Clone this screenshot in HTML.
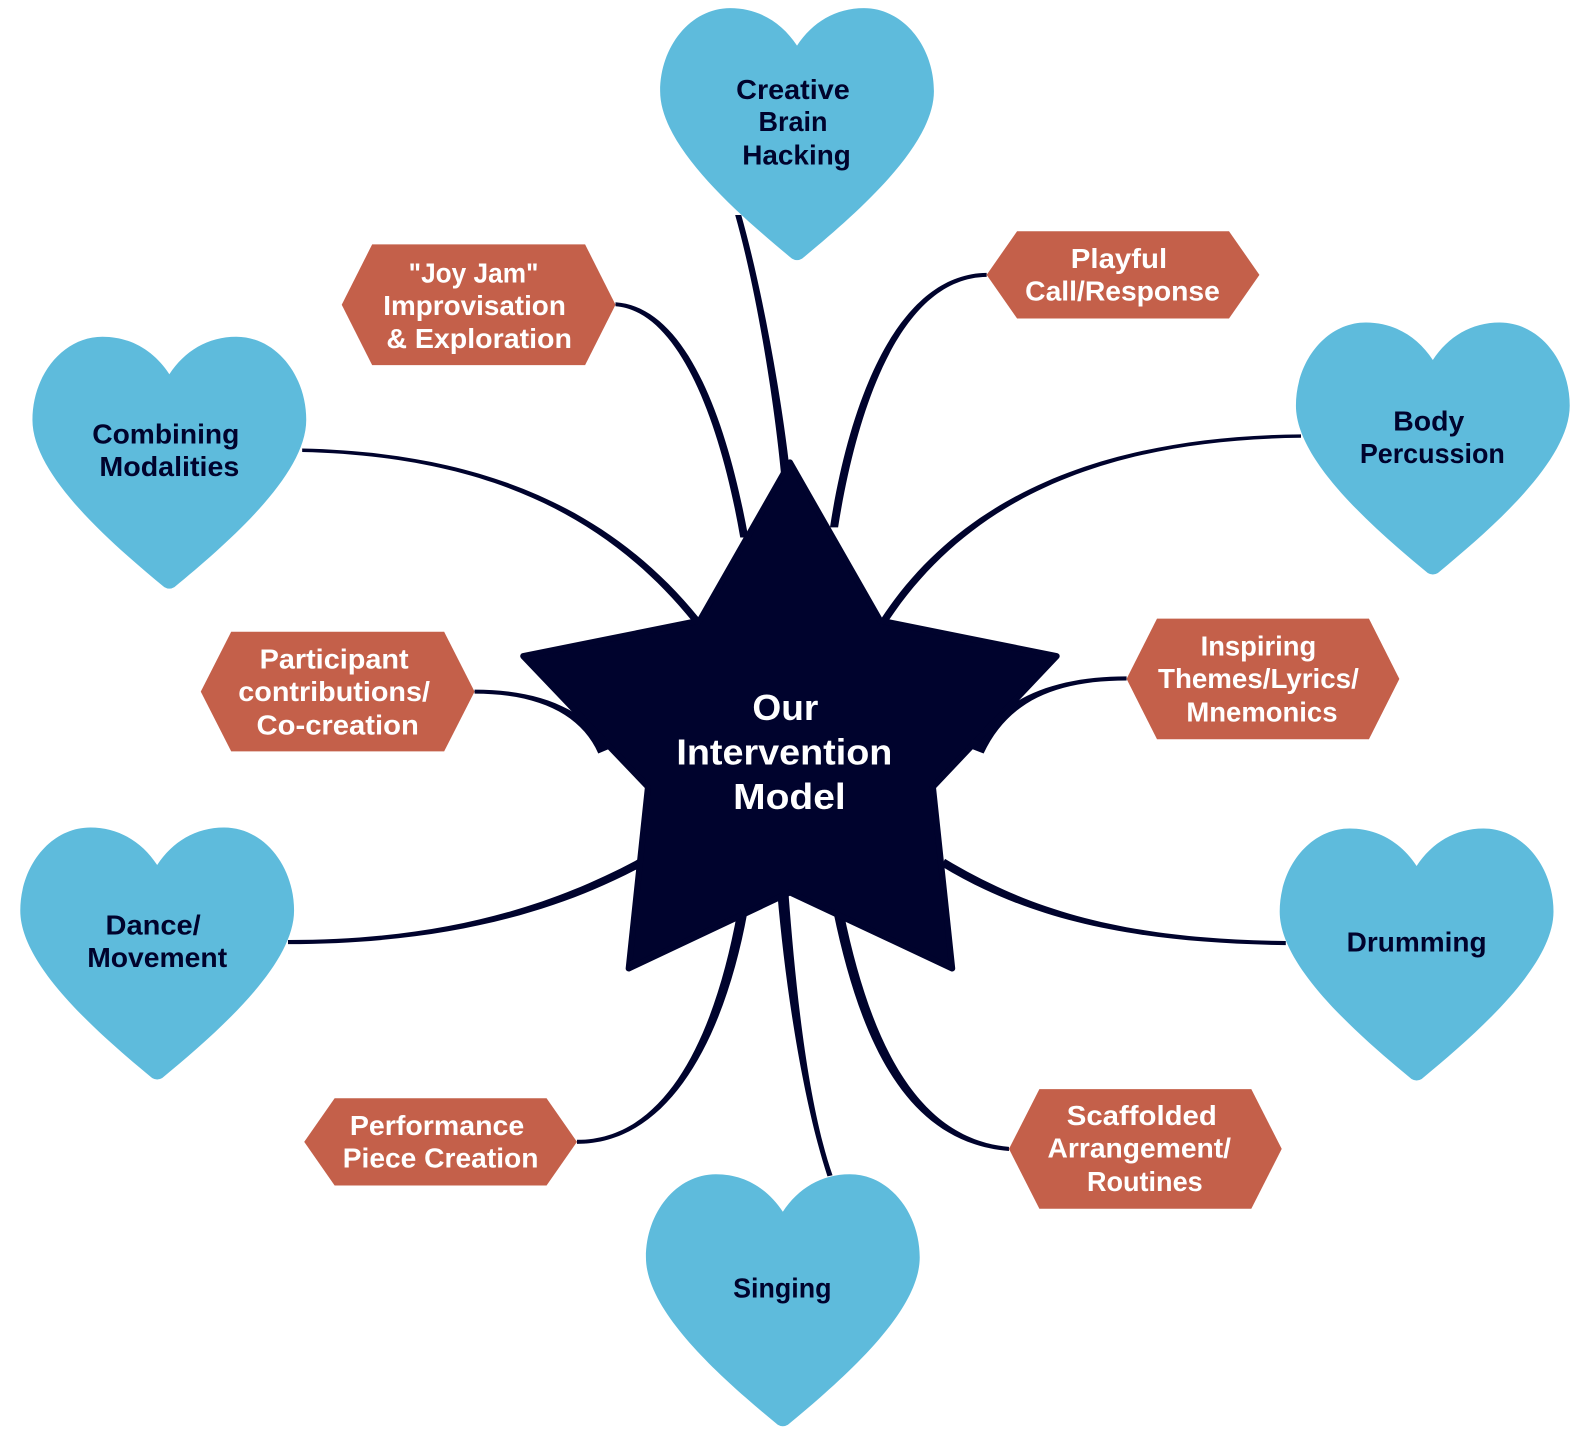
<!DOCTYPE html>
<html>
<head>
<meta charset="utf-8">
<style>
html,body{margin:0;padding:0;background:#fff}
svg{display:block}
text{font-family:"Liberation Sans",sans-serif;font-weight:700;text-anchor:start}
.h{font-size:27px;fill:#00032d}
.x{font-size:27px;fill:#fff}
.s{font-size:36px;fill:#fff}
</style>
</head>
<body>
<svg xmlns="http://www.w3.org/2000/svg" width="1590" height="1440" viewBox="0 0 1568 1420">
<defs>
<path id="heart" d="M0,37 C15,14 38,0 66,0 C105,0 135,38 135,82 C135,135 62,200 5,247 Q0,250 -5,247 C-62,200 -135,135 -135,82 C-135,38 -105,0 -66,0 C-38,0 -15,14 0,37Z"/>
</defs>
<rect width="1568" height="1420" fill="#fff"/>
<g fill="#00032d">
<path d="M725,212 C747,290 764,400 770.5,470 L779.5,470 C772,400 753,290 731,212Z"/>
<path d="M607,298 C679,303 718,420 738,530 L730,530 C711,420 671,307 607,302Z"/>
<path d="M973,269 C886,270 838,393 818.5,520 L826.5,520 C846,397 890,274 973,273Z"/>
<path d="M298,442.3 C470,446 599,498 689,609 L683,613 C593,502 470,449.7 298,445.7Z"/>
<path d="M1283,428.3 C1090,430 949,488 869,610 L875,614 C955,492 1090,433.7 1283,431.7Z"/>
<path d="M468,680 C530,680 577,698 602,738 L590,743 C573,704 530,684 468,684Z"/>
<path d="M1111,667 C1040,667 986,688 957,738 L970,743 C994,692 1040,671 1111,671Z"/>
<path d="M284,927 C430,927 537,897 630,847 L634,854 C543,903 430,931 284,931Z"/>
<path d="M1268,928 C1120,926 1023,902 932,847 L928,854 C1017,908 1120,930 1268,932Z"/>
<path d="M569,1124 C658,1124 705,1020 727,900 L737,900 C715,1020 662,1128 569,1128Z"/>
<path d="M995,1131 C905,1123 859,1030 832,900 L822,900 C849,1030 895,1127 995,1135Z"/>
<path d="M816,1160 C793,1090 775,980 766.5,880 L777.5,880 C785,980 797,1090 821,1159Z"/>
</g>
<g fill="#5ebbdc">
<use href="#heart" transform="translate(786,8)"/>
<use href="#heart" transform="translate(1413,318)"/>
<use href="#heart" transform="translate(1397,817)"/>
<use href="#heart" transform="translate(772,1158)"/>
<use href="#heart" transform="translate(155,816)"/>
<use href="#heart" transform="translate(167,332)"/>
</g>
<g fill="#c4604a">
<polygon points="337,300.5 367,241 577,241 607,300.5 577,360 367,360"/>
<polygon points="973,271 1003,228 1212,228 1242,271 1212,314 1003,314"/>
<polygon points="1111,669.5 1141,610 1350,610 1380,669.5 1350,729 1141,729"/>
<polygon points="995,1133 1025,1074 1234,1074 1264,1133 1234,1192 1025,1192"/>
<polygon points="300,1126 330,1083 539,1083 569,1126 539,1169 330,1169"/>
<polygon points="198,682 228,623 438,623 468,682 438,741 228,741"/>
</g>
<polygon fill="#00032d" stroke="#00032d" stroke-width="6" stroke-linejoin="round"
 points="779,456 868,612 1042,647 920,776 939,955 779,880 620,955 639,776 516,647 690,612"/>
<g transform="translate(0,-0.6)">
<text class="h" x="726" y="98" textLength="112" lengthAdjust="spacingAndGlyphs">Creative</text>
<text class="h" x="748" y="130" textLength="68" lengthAdjust="spacingAndGlyphs">Brain</text>
<text class="h" x="732" y="163" textLength="107" lengthAdjust="spacingAndGlyphs">Hacking</text>
<text class="h" x="91" y="438" textLength="145" lengthAdjust="spacingAndGlyphs">Combining</text>
<text class="h" x="98" y="470" textLength="138" lengthAdjust="spacingAndGlyphs">Modalities</text>
<text class="h" x="1374" y="425" textLength="70" lengthAdjust="spacingAndGlyphs">Body</text>
<text class="h" x="1341" y="457" textLength="143" lengthAdjust="spacingAndGlyphs">Percussion</text>
<text class="h" x="104" y="922" textLength="94" lengthAdjust="spacingAndGlyphs">Dance/</text>
<text class="h" x="86" y="954" textLength="138" lengthAdjust="spacingAndGlyphs">Movement</text>
<text class="h" x="1328" y="939" textLength="138" lengthAdjust="spacingAndGlyphs">Drumming</text>
<text class="h" x="723" y="1280" textLength="97" lengthAdjust="spacingAndGlyphs">Singing</text>
<text class="x" x="403" y="279" textLength="128" lengthAdjust="spacingAndGlyphs">"Joy Jam"</text>
<text class="x" x="378" y="311" textLength="180" lengthAdjust="spacingAndGlyphs">Improvisation</text>
<text class="x" x="381" y="344" textLength="183" lengthAdjust="spacingAndGlyphs">&amp; Exploration</text>
<text class="x" x="1056" y="265" textLength="95" lengthAdjust="spacingAndGlyphs">Playful</text>
<text class="x" x="1011" y="297" textLength="192" lengthAdjust="spacingAndGlyphs">Call/Response</text>
<text class="x" x="256" y="660" textLength="147" lengthAdjust="spacingAndGlyphs">Participant</text>
<text class="x" x="235" y="692" textLength="189" lengthAdjust="spacingAndGlyphs">contributions/</text>
<text class="x" x="253" y="725" textLength="160" lengthAdjust="spacingAndGlyphs">Co-creation</text>
<text class="x" x="1184" y="647" textLength="114" lengthAdjust="spacingAndGlyphs">Inspiring</text>
<text class="x" x="1142" y="679" textLength="198" lengthAdjust="spacingAndGlyphs">Themes/Lyrics/</text>
<text class="x" x="1170" y="712" textLength="149" lengthAdjust="spacingAndGlyphs">Mnemonics</text>
<text class="x" x="345" y="1120" textLength="172" lengthAdjust="spacingAndGlyphs">Performance</text>
<text class="x" x="338" y="1152" textLength="193" lengthAdjust="spacingAndGlyphs">Piece Creation</text>
<text class="x" x="1052" y="1110" textLength="148" lengthAdjust="spacingAndGlyphs">Scaffolded</text>
<text class="x" x="1033" y="1142" textLength="181" lengthAdjust="spacingAndGlyphs">Arrangement/</text>
<text class="x" x="1072" y="1175" textLength="114" lengthAdjust="spacingAndGlyphs">Routines</text>
</g>
<text class="s" x="742" y="710" textLength="65" lengthAdjust="spacingAndGlyphs">Our</text>
<text class="s" x="667" y="754" textLength="213" lengthAdjust="spacingAndGlyphs">Intervention</text>
<text class="s" x="723" y="798" textLength="111" lengthAdjust="spacingAndGlyphs">Model</text>
</svg>
</body>
</html>
